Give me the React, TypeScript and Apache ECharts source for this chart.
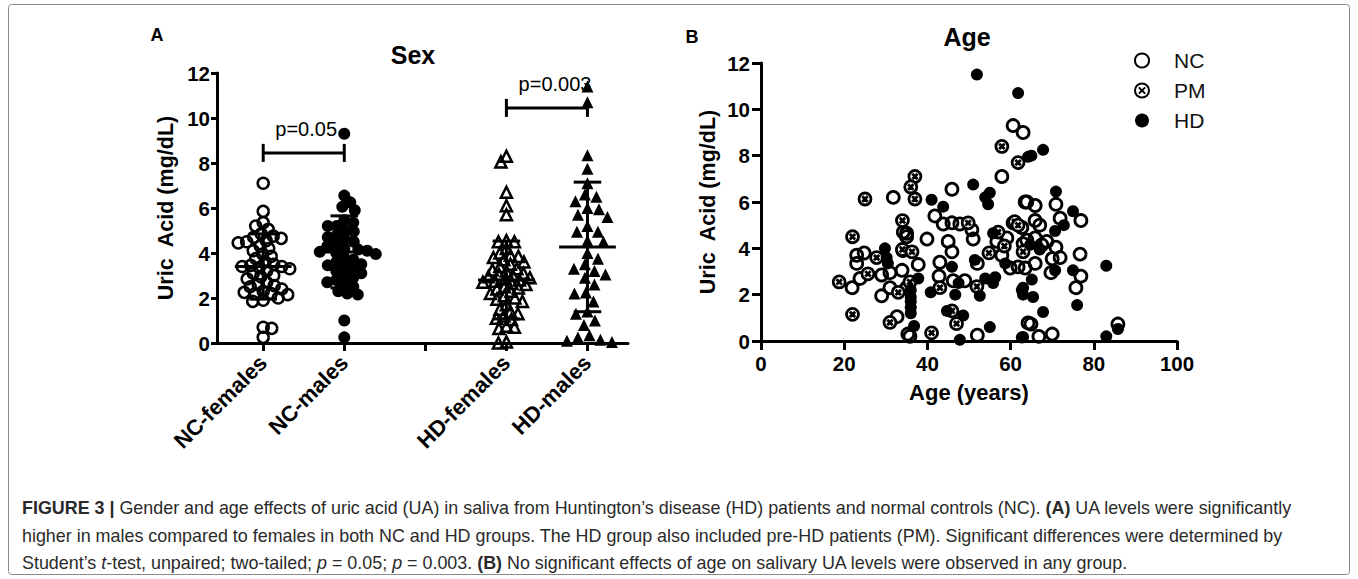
import React, { useEffect, useRef } from "react";
import * as echarts from "echarts";

// ---------- Panel A data ----------
const sexCategories = ["NC-females", "NC-males", "", "HD-females", "HD-males"];
const groupPositions = [0, 1, 3, 4];
const ncFemales = [7.1, 5.85, 5.35, 5.2, 5.05, 4.85, 4.75, 4.7, 4.65, 4.55, 4.5, 4.45, 4.3, 4.2, 4.1, 3.95, 3.85, 3.75, 3.6, 3.5, 3.45, 3.4, 3.4, 3.35, 3.3, 3.2, 3.1, 3.0, 2.95, 2.85, 2.7, 2.6, 2.55, 2.5, 2.4, 2.3, 2.25, 2.2, 2.2, 2.15, 2.0, 1.9, 1.85, 0.7, 0.65, 0.25];
const ncMales = [9.3, 6.55, 6.25, 6.05, 5.9, 5.45, 5.35, 5.2, 5.2, 5.0, 4.95, 4.8, 4.7, 4.6, 4.5, 4.4, 4.3, 4.2, 4.15, 4.1, 4.05, 4.0, 3.95, 3.8, 3.7, 3.6, 3.5, 3.45, 3.4, 3.3, 3.2, 3.1, 3.0, 2.9, 2.8, 2.7, 2.6, 2.5, 2.3, 2.2, 2.15, 1.0, 0.25];
const hdFemales = [8.3, 8.05, 6.7, 6.1, 5.7, 4.55, 4.5, 4.5, 4.2, 4.0, 3.9, 3.85, 3.8, 3.7, 3.6, 3.5, 3.4, 3.3, 3.25, 3.2, 3.1, 3.05, 3.0, 2.95, 2.9, 2.85, 2.8, 2.75, 2.7, 2.65, 2.6, 2.5, 2.45, 2.4, 2.3, 2.2, 2.1, 2.0, 1.95, 1.85, 1.7, 1.5, 1.4, 1.3, 1.2, 1.1, 1.05, 0.75, 0.7, 0.65, 0.05, 0.0];
const hdMales = [11.4, 10.7, 8.35, 7.75, 7.1, 6.6, 6.5, 6.3, 6.0, 5.95, 5.7, 5.6, 5.2, 4.95, 4.95, 4.55, 4.5, 4.0, 3.75, 3.5, 3.3, 3.2, 3.05, 2.9, 2.6, 2.25, 2.2, 1.85, 1.4, 1.3, 1.0, 0.8, 0.35, 0.25, 0.15, 0.1, 0.05];
const groupMeans = [3.4, 4.05, 2.8, 4.27];
const groupSDs = [1.45, 1.6, 1.73, 2.88];
const sigPairs = [[0, 1, 8.45], [3, 4, 10.45]];
const sigLabels = ["p=0.05", "p=0.003"];
const sigLabelX = [0.53, 3.6];

// ---------- Panel B data ----------
const ncAge = [
  [31.8, 6.2], [34.2, 4.7], [35, 4.5], [23, 3.7], [24.8, 3.8], [23, 3.35], [23.8, 2.7], [29, 2.85], [31, 2.95], [33.9, 3.05], [21.9, 2.3], [29, 1.95], [31, 2.3], [35, 2.3], [32.7, 1.05], [35.3, 0.3],
  [60.6, 9.3], [63, 9.0], [57.9, 7.1], [45.9, 6.55], [63.5, 6.0], [41.8, 5.4], [43.8, 5.05], [45.9, 5.1], [47.8, 5.05], [50.7, 4.8], [51, 4.4], [39.9, 4.4], [45, 4.3], [45.9, 3.85], [43, 3.4], [42.8, 2.8], [46.2, 2.6], [49, 2.6], [52, 3.35], [56.7, 4.3], [57.9, 3.7], [59.1, 4.45], [59.9, 3.15], [60.6, 5.1], [63, 4.2], [61.8, 3.2], [64.2, 0.78], [52, 0.25], [35.8, 0.2], [37.8, 3.3], [35, 4.65], [34.1, 3.9],
  [63.9, 6.0], [65.9, 5.85], [70.9, 5.9], [76.9, 5.2], [71.9, 5.3], [65.9, 5.2], [67, 5.0], [62.7, 4.9], [63.9, 4.35], [65.9, 4.45], [67.5, 4.15], [68.7, 4.3], [70.9, 4.05], [76.7, 3.75], [70, 3.55], [71.9, 3.6], [65.9, 3.35], [63.5, 3.15], [69.7, 2.95], [76.9, 2.8], [75.7, 2.3], [64.9, 0.73], [66.8, 0.2], [70, 0.3], [85.8, 0.73]
];
const pmAge = [
  [25, 6.13], [22, 4.5], [34, 5.2], [34, 3.95], [27.8, 3.6], [25.7, 2.9], [18.8, 2.55], [33, 2.1], [22, 1.15], [31, 0.8],
  [37, 7.1], [36, 6.65], [37, 6.13], [49.8, 5.1], [43, 2.3], [51.9, 2.35], [54.8, 3.8], [57, 4.7], [61, 5.15], [61.8, 5.0], [63, 3.85], [45.9, 1.3], [47, 0.75], [41, 0.35], [36.3, 3.85], [35.8, 2.55], [57.9, 8.4], [61.8, 7.7], [58.5, 4.1]
];
const hdAge = [
  [29.8, 4.0], [30.2, 3.6], [30.5, 3.35],
  [51.9, 11.5], [61.8, 10.7], [64.2, 7.95], [51, 6.75], [41, 6.1], [43.8, 5.8], [53.9, 6.2], [55, 6.4], [54.6, 5.9], [45.9, 3.2], [47.5, 2.5], [40.8, 2.1], [46.7, 2.0], [52.6, 1.95], [51.4, 3.5], [53.9, 2.7], [55.8, 2.5], [56.3, 2.75], [55.8, 4.65], [58.7, 3.35], [62.7, 2.2], [63, 2.0], [44.7, 1.3], [48.6, 1.1], [55, 0.6], [47.8, 0.05], [36.8, 0.65], [62.7, 0.15], [36, 2.2], [36, 1.9], [36, 1.7], [36, 1.45], [36, 1.2], [37.8, 2.7],
  [65, 8.0], [67.8, 8.25], [70.9, 6.45], [75, 5.6], [72.8, 5.0], [70.7, 4.75], [67, 3.95], [64.7, 4.15], [70.7, 3.05], [75, 3.05], [83, 3.25], [65.1, 2.65], [63, 2.3], [65.4, 1.9], [76, 1.55], [67.8, 1.25], [63, 0.17], [83, 0.2], [85.8, 0.52]
];

const FONT = "'Liberation Sans', Arial, Helvetica, sans-serif";
const PM_SYMBOL = "path://M0,-10A10,10,0,1,1,0,10A10,10,0,1,1,0,-10ZM-4.5,-4.5L4.5,4.5M4.5,-4.5L-4.5,4.5";

// grid geometry of panel A (pixels)
const A_LEFT = 217, A_TOP = 73, A_W = 411, A_H = 270;
const A_XMIN = -0.57, A_XMAX = 4.5;

function swarmOffsets(values: number[], minDist: number): number[] {
  const pyu = A_H / 12;
  const pxu = A_W / (A_XMAX - A_XMIN);
  const placed: { x: number; y: number }[] = [];
  const out: number[] = [];
  values.forEach((v, idx) => {
    const y = v * pyu;
    let best = 0;
    for (let k = 0; k < 400; k++) {
      const step = k * 0.5;
      const cands = k === 0 ? [0] : idx % 2 ? [-step, step] : [step, -step];
      let found = false;
      for (const dx of cands) {
        if (placed.every((p) => (p.x - dx) ** 2 + (p.y - y) ** 2 >= minDist * minDist)) {
          best = dx;
          found = true;
          break;
        }
      }
      if (found) break;
    }
    placed.push({ x: best, y });
    out.push(best / pxu);
  });
  return out;
}

function groupData(values: number[], pos: number, minDist: number) {
  const offs = swarmOffsets(values, minDist);
  return values.map((v, i) => [pos + offs[i], v]);
}

const axisLineStyle = { color: "#000", width: 3 };

export default function App() {
  const ref = useRef<HTMLDivElement>(null);
  useEffect(() => {
    if (!ref.current) return;
    const chart = echarts.init(ref.current, undefined, { renderer: "svg" });
    const boldLabel = { color: "#000", fontWeight: "bold" as const, fontSize: 20.5, fontFamily: FONT };
    const capColor = "#2a2a2a";

    const option: any = {
      animation: false,
      backgroundColor: "#fff",
      grid: [
        { left: A_LEFT, top: A_TOP, width: A_W, height: A_H },
        { left: 761, top: 63, width: 416, height: 278 }
      ],
      xAxis: [
        {
          type: "value", gridIndex: 0, min: A_XMIN, max: A_XMAX,
          axisLine: { show: true, lineStyle: axisLineStyle },
          axisTick: { show: true, length: 8, lineStyle: axisLineStyle, customValues: [0, 1, 2, 3, 4] },
          axisLabel: {
            customValues: [0, 1, 3, 4],
            formatter: (v: number) => sexCategories[Math.round(v)] || "",
            rotate: 45, margin: 16, fontSize: 22, fontWeight: "bold", color: "#000", fontFamily: FONT
          },
          splitLine: { show: false }
        },
        {
          type: "value", gridIndex: 1, min: 0, max: 100, interval: 20,
          name: "Age (years)", nameLocation: "middle", nameGap: 40,
          nameTextStyle: { fontSize: 22, fontWeight: "bold", color: "#000", fontFamily: FONT },
          axisLine: { show: true, lineStyle: axisLineStyle },
          axisTick: { show: true, length: 9, lineStyle: axisLineStyle },
          axisLabel: { ...boldLabel, margin: 12 },
          splitLine: { show: false }
        }
      ],
      yAxis: [
        {
          type: "value", gridIndex: 0, min: 0, max: 12, interval: 2,
          name: "Uric  Acid (mg/dL)", nameLocation: "middle", nameGap: 40,
          nameTextStyle: { fontSize: 21.5, fontWeight: "bold", color: "#000", fontFamily: FONT },
          axisLine: { show: true, onZero: false, lineStyle: axisLineStyle },
          axisTick: { show: true, length: 6, lineStyle: axisLineStyle },
          axisLabel: { ...boldLabel, margin: 7 },
          splitLine: { show: false }
        },
        {
          type: "value", gridIndex: 1, min: 0, max: 12, interval: 2,
          name: "Uric  Acid (mg/dL)", nameLocation: "middle", nameGap: 42,
          nameTextStyle: { fontSize: 21.5, fontWeight: "bold", color: "#000", fontFamily: FONT },
          axisLine: { show: true, onZero: false, lineStyle: axisLineStyle },
          axisTick: { show: true, length: 9, lineStyle: axisLineStyle },
          axisLabel: { ...boldLabel, margin: 11 },
          splitLine: { show: false }
        }
      ],
      legend: {
        data: ["NC", "PM", "HD"],
        orient: "vertical", left: 1129, top: 45,
        itemWidth: 14, itemHeight: 14, itemGap: 9,
        selectedMode: false,
        textStyle: { fontSize: 21, color: "#111", fontFamily: FONT, padding: [0, 0, 0, 20] }
      },
      series: [
        {
          type: "scatter", xAxisIndex: 0, yAxisIndex: 0, symbol: "circle", symbolSize: 11,
          itemStyle: { color: "rgba(0,0,0,0)", borderColor: "#000", borderWidth: 2.5, opacity: 1 },
          data: groupData(ncFemales, groupPositions[0], 8.2)
        },
        {
          type: "scatter", xAxisIndex: 0, yAxisIndex: 0, symbol: "circle", symbolSize: 12,
          itemStyle: { color: "#000", opacity: 1 },
          data: groupData(ncMales, groupPositions[1], 9)
        },
        {
          type: "scatter", xAxisIndex: 0, yAxisIndex: 0, symbol: "triangle", symbolSize: 11,
          itemStyle: { color: "rgba(0,0,0,0)", borderColor: "#000", borderWidth: 2.5, opacity: 1 },
          data: groupData(hdFemales, groupPositions[2], 7.8)
        },
        {
          type: "scatter", xAxisIndex: 0, yAxisIndex: 0, symbol: "triangle", symbolSize: 12,
          itemStyle: { color: "#000", opacity: 1 },
          data: groupData(hdMales, groupPositions[3], 11.5)
        },
        {
          type: "custom", xAxisIndex: 0, yAxisIndex: 0, silent: true,
          data: groupMeans.map((m, i) => [groupPositions[i], m, groupSDs[i]]),
          renderItem: (params: any, api: any) => {
            const x = api.value(0), m = api.value(1), s = api.value(2);
            const c = api.coord([x, m]);
            const t = api.coord([x, m + s]);
            const b = api.coord([x, m - s]);
            const hm = api.size([0.35, 0])[0];
            const hc = api.size([0.17, 0])[0];
            const st = { stroke: "#000", lineWidth: 3 };
            return {
              type: "group",
              children: [
                { type: "line", shape: { x1: c[0] - hm, y1: c[1], x2: c[0] + hm, y2: c[1] }, style: st },
                { type: "line", shape: { x1: t[0], y1: t[1], x2: b[0], y2: b[1] }, style: st },
                { type: "line", shape: { x1: t[0] - hc, y1: t[1], x2: t[0] + hc, y2: t[1] }, style: st },
                { type: "line", shape: { x1: b[0] - hc, y1: b[1], x2: b[0] + hc, y2: b[1] }, style: st }
              ]
            };
          }
        },
        {
          type: "custom", xAxisIndex: 0, yAxisIndex: 0, silent: true,
          data: sigPairs,
          renderItem: (params: any, api: any) => {
            const x1 = api.value(0), x2 = api.value(1), y = api.value(2);
            const p1 = api.coord([x1, y]);
            const p2 = api.coord([x2, y]);
            const e = api.size([0, 0.4])[1];
            const lp = api.coord([sigLabelX[params.dataIndex], y]);
            const st = { stroke: "#000", lineWidth: 3 };
            return {
              type: "group",
              children: [
                { type: "line", shape: { x1: p1[0], y1: p1[1], x2: p2[0], y2: p2[1] }, style: st },
                { type: "line", shape: { x1: p1[0], y1: p1[1] - e, x2: p1[0], y2: p1[1] + e }, style: st },
                { type: "line", shape: { x1: p2[0], y1: p2[1] - e, x2: p2[0], y2: p2[1] + e }, style: st },
                {
                  type: "text", x: lp[0], y: lp[1] - 24,
                  style: { text: sigLabels[params.dataIndex], fontSize: 20, fontFamily: FONT, fill: "#000", align: "center", verticalAlign: "middle" }
                }
              ]
            };
          }
        },
        {
          name: "NC", type: "scatter", xAxisIndex: 1, yAxisIndex: 1, symbol: "circle", symbolSize: 12,
          itemStyle: { color: "rgba(0,0,0,0)", borderColor: "#000", borderWidth: 2.8, opacity: 1 },
          data: ncAge
        },
        {
          name: "PM", type: "scatter", xAxisIndex: 1, yAxisIndex: 1, symbol: PM_SYMBOL, symbolSize: 12,
          itemStyle: { color: "#fff", borderColor: "#000", borderWidth: 2.8, opacity: 1 },
          data: pmAge
        },
        {
          name: "HD", type: "scatter", xAxisIndex: 1, yAxisIndex: 1, symbol: "circle", symbolSize: 12,
          itemStyle: { color: "#000", opacity: 1 },
          data: hdAge
        }
      ],
      graphic: [
        { type: "rect", shape: { x: 8.5, y: 4.5, width: 1341, height: 570, r: 3 }, style: { fill: "none", stroke: "#8a8a8a", lineWidth: 1 }, silent: true },
        { type: "text", x: 157, y: 35, style: { text: "A", fontSize: 18, fontWeight: "bold", fontFamily: FONT, fill: "#000", align: "center", verticalAlign: "middle" } },
        { type: "text", x: 413, y: 55, style: { text: "Sex", fontSize: 25, fontWeight: "bold", fontFamily: FONT, fill: "#000", align: "center", verticalAlign: "middle" } },
        { type: "text", x: 692, y: 37, style: { text: "B", fontSize: 18, fontWeight: "bold", fontFamily: FONT, fill: "#000", align: "center", verticalAlign: "middle" } },
        { type: "text", x: 967, y: 37, style: { text: "Age", fontSize: 25, fontWeight: "bold", fontFamily: FONT, fill: "#000", align: "center", verticalAlign: "middle" } },
        {
          type: "text", x: 22, y: 508,
          style: {
            text: "{b|FIGURE 3 |} Gender and age effects of uric acid (UA) in saliva from Huntington\u2019s disease (HD) patients and normal controls (NC). {b|(A)} UA levels were significantly",
            fontSize: 17.9, fontFamily: FONT, fill: capColor, verticalAlign: "middle",
            rich: { b: { fontSize: 17.9, fontFamily: FONT, fontWeight: "bold", fill: capColor } }
          }
        },
        {
          type: "text", x: 22, y: 536,
          style: {
            text: "higher in males compared to females in both NC and HD groups. The HD group also included pre-HD patients (PM). Significant differences were determined by",
            fontSize: 17.9, fontFamily: FONT, fill: capColor, verticalAlign: "middle"
          }
        },
        {
          type: "text", x: 22, y: 563,
          style: {
            text: "Student\u2019s {i|t}-test, unpaired; two-tailed; {i|p} = 0.05; {i|p} = 0.003. {b|(B)} No significant effects of age on salivary UA levels were observed in any group.",
            fontSize: 17.9, fontFamily: FONT, fill: capColor, verticalAlign: "middle",
            rich: {
              b: { fontSize: 17.9, fontFamily: FONT, fontWeight: "bold", fill: capColor },
              i: { fontSize: 17.9, fontFamily: FONT, fontStyle: "italic", fill: capColor }
            }
          }
        }
      ]
    };
    chart.setOption(option);
    return () => chart.dispose();
  }, []);
  return <div ref={ref} style={{ position: "absolute", left: 0, top: 0, width: 1358, height: 579 }} />;
}
